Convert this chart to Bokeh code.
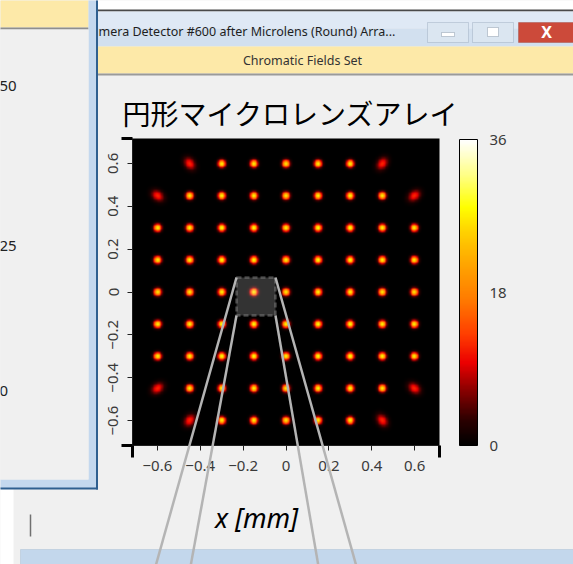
import numpy as np
from bokeh.plotting import figure
from bokeh.models import (Range1d, LinearColorMapper, ColorBar, FixedTicker,
                          BoxAnnotation, Label, Arrow)
from bokeh.embed import file_html
from bokeh.resources import INLINE

# ---- data -------------------------------------------------------------
# microlens centre positions on the detector (mm)
lens_x = [-0.6, -0.45, -0.3, -0.15, 0.0, 0.15, 0.3, 0.45, 0.6]
lens_y = [0.6, 0.45, 0.3, 0.15, 0.0, -0.15, -0.3, -0.45, -0.6]

# peak intensity of each focal spot (rows follow lens_y, columns lens_x)
spot_peak = [
    [0, 12, 28, 28, 28, 28, 28, 12, 0],
    [12, 28, 28, 28, 28, 28, 28, 28, 12],
    [28, 28, 28, 28, 28, 28, 28, 28, 28],
    [28, 28, 28, 28, 28, 28, 28, 28, 28],
    [28, 28, 28, 28, 28, 28, 28, 28, 28],
    [28, 28, 28, 28, 28, 28, 28, 28, 28],
    [28, 28, 28, 28, 28, 28, 28, 28, 28],
    [12, 28, 28, 28, 28, 28, 28, 28, 12],
    [0, 12, 28, 28, 28, 28, 28, 12, 0],
]
# radial stretch of each spot (off-axis lenses give oblique, smeared spots)
spot_stretch = [
    [1, 1.8, 1, 1, 1, 1, 1, 1.8, 1],
    [1.8, 1, 1, 1, 1, 1, 1, 1, 1.8],
    [1, 1, 1, 1, 1, 1, 1, 1, 1],
    [1, 1, 1, 1, 1, 1, 1, 1, 1],
    [1, 1, 1, 1, 1, 1, 1, 1, 1],
    [1, 1, 1, 1, 1, 1, 1, 1, 1],
    [1, 1, 1, 1, 1, 1, 1, 1, 1],
    [1.8, 1, 1, 1, 1, 1, 1, 1, 1.8],
    [1, 1.8, 1, 1, 1, 1, 1, 1.8, 1],
]
x_ticks = [-0.6, -0.4, -0.2, 0.0, 0.2, 0.4, 0.6]
y_ticks = [-0.6, -0.4, -0.2, 0.0, 0.2, 0.4, 0.6]
cbar_ticks = [0, 18, 36]
intensity_max = 36

title_text = "円形マイクロレンズアレイ"
x_label = "x [mm]"
window_title = "mera Detector #600 after Microlens (Round) Arra..."
window_tab = "Chromatic Fields Set"
side_labels = ["50", "25", "0"]

# ---- intensity image --------------------------------------------------
EXT = 0.716
N = 400
grid = np.linspace(-EXT, EXT, N)
GX, GY = np.meshgrid(grid, grid)
img = np.zeros_like(GX)
SIG = 0.0118
for i, yc in enumerate(lens_y):
    for j, xc in enumerate(lens_x):
        a = spot_peak[i][j]
        if a == 0:
            continue
        r = np.hypot(xc, yc)
        ux, uy = (xc / r, yc / r) if r > 0 else (1.0, 0.0)
        dx, dy = GX - xc, GY - yc
        dr = dx * ux + dy * uy
        dt = -dx * uy + dy * ux
        s = spot_stretch[i][j]
        sig_r, sig_t = SIG * s, SIG * np.sqrt(s)
        img += a * np.exp(-0.5 * ((dr / sig_r) ** 2 + (dt / sig_t) ** 2))

# black -> red -> orange -> yellow -> white
anchors = [(0.00, "#000000"), (0.08, "#2a0000"), (0.18, "#8a0000"),
           (0.27, "#ec0000"), (0.36, "#ff3c00"), (0.48, "#ff7c00"),
           (0.60, "#ffa800"), (0.70, "#ffd200"), (0.78, "#ffff00"),
           (0.88, "#ffff80"), (1.00, "#ffffff")]


def _rgb(h):
    return np.array([int(h[k:k + 2], 16) for k in (1, 3, 5)], float)


palette = []
for t in np.linspace(0, 1, 256):
    for (t0, c0), (t1, c1) in zip(anchors[:-1], anchors[1:]):
        if t0 <= t <= t1:
            f = (t - t0) / (t1 - t0)
            c = _rgb(c0) * (1 - f) + _rgb(c1) * f
            palette.append("#%02x%02x%02x" % tuple(int(round(v)) for v in c))
            break

mapper = LinearColorMapper(palette=palette, low=0, high=intensity_max)

# ---- canvas geometry (px) ---------------------------------------------
W, H = 573, 564
FL, FR, FT, FB = 132, 439, 138, 445          # image area on the canvas
SX = (FR - FL) / (2 * EXT)
SY = (FB - FT) / (2 * EXT)
CX = (FL + FR) / 2
CY = (FT + FB) / 2


def X(px):
    return (px - CX) / SX


def Y(py):
    return (CY - py) / SY


p = figure(width=W, height=H, x_range=Range1d(X(0), X(W)), y_range=Range1d(Y(H), Y(0)),
           output_backend="svg", toolbar_location=None, min_border=0,
           background_fill_color="#f0f0f0", border_fill_color="#f0f0f0",
           outline_line_color=None)
p.image(image=[img], x=-EXT, y=-EXT, dw=2 * EXT, dh=2 * EXT, color_mapper=mapper)
p.grid.visible = False

for ax, ticks in ((p.xaxis, x_ticks), (p.yaxis, y_ticks)):
    ax.ticker = FixedTicker(ticks=ticks)
    ax.fixed_location = -EXT
    ax.bounds = (-EXT, EXT)
    ax.major_label_text_font = "Noto Sans"
    ax.major_label_text_font_size = "15px"
    ax.major_label_text_color = "#3a3a3a"
    ax.major_tick_in = 0
    ax.major_tick_out = 5
    ax.minor_tick_line_color = None
    ax.axis_line_color = "#202020"
    ax.major_tick_line_color = "#202020"
p.xaxis.major_label_standoff = 10
p.yaxis.major_label_standoff = 9
p.yaxis.major_label_orientation = "vertical"

cb = ColorBar(color_mapper=mapper, ticker=FixedTicker(ticks=cbar_ticks),
              width=18, height=FB - FT - 1, padding=0, margin=0,
              location=(459, H - FB),
              bar_line_color="black", major_tick_line_color=None,
              major_label_text_font="Noto Sans", major_label_text_font_size="15px",
              major_label_text_color="#3a3a3a", label_standoff=12,
              background_fill_alpha=0, border_line_color=None)
p.add_layout(cb)


def box(l, t, r, b, fill, line=None, alpha=1.0, **kw):
    p.add_layout(BoxAnnotation(left=X(l), right=X(r), top=Y(t), bottom=Y(b),
                               fill_color=fill, fill_alpha=alpha,
                               line_color=line, **kw))


def seg(x0, y0, x1, y1, color, width):
    p.add_layout(Arrow(end=None, x_start=X(x0), y_start=Y(y0), x_end=X(x1), y_end=Y(y1),
                       line_color=color, line_width=width))


def text(px, py, s, size, color="#222222", font="Noto Sans", align="left",
         style="normal", baseline="middle"):
    p.add_layout(Label(x=X(px), y=Y(py), text=s, text_font=font, text_font_size=size,
                       text_color=color, text_align=align, text_baseline=baseline,
                       text_font_style=style))


# axis end caps
seg(121, FT, FL, FT, "black", 3)
seg(121, FB, FL, FB, "black", 3)
seg(FL, FB, FL, FB + 12, "black", 3)
seg(FR, FB, FR, FB + 12, "black", 3)

# ---- window chrome ----------------------------------------------------
# chart window: top strip, title bar, buttons, tab strip
box(97, 0, W + 2, 10, "white")
box(97, 9, W + 2, 11, "#4a4a4a")
box(97, 11, W + 2, 28, "#dfe9f5")
box(97, 28, W + 2, 46, "#d2e0ef")
text(98, 31, window_title, "12.5px", "#1e1e1e")
box(427, 22, 468, 42, "#dbe6f1", "#7b8fa6")
box(441, 32, 454, 36, "white", "#51647a")
box(472, 22, 513, 42, "#dbe6f1", "#7b8fa6")
box(487, 27, 498, 36, "white", "#51647a")
box(518, 22, W + 2, 42, "#cc4a3a", "#8c2a20")
text(546, 31.5, "X", "16px", "white", align="center", style="bold")
box(97, 46, W + 2, 73, "#fde9a8")
box(97, 73, W + 2, 75, "#9a9a9a")
text(302, 60, window_tab, "12.5px", "#333333", align="center")

# chart window lower frame
box(-2, 488, 13, H + 2, "white")
box(20, 549, W + 2, H + 2, "#c3d7ec", "#8fa9c4")
seg(30, 514, 30, 536, "#707070", 1.5)

# overlapping window on the left
box(-2, -2, 97, 488, "#f0f0f0")
box(-2, -2, 88, 27, "#fde9a8")
box(-2, 27, 88, 29, "#8e8e8e")
box(88, -2, 97, 488, "#c4d8ee")
box(-2, 479, 97, 488, "#c4d8ee")
box(-2, 29, 88, 479, "#f0f0f0")
box(95.5, -2, 97.5, 489, "#2f5f8f")
box(-2, 487, 97.5, 489, "#2f5f8f")
for lab, py in zip(side_labels, (85, 245, 390)):
    text(-1, py, lab, "15px", "#222222")

# ---- titles -----------------------------------------------------------
text(122, 112, title_text, "28px", "black", font="Noto Sans CJK JP")
text(256, 517, x_label, "27px", "black", style="italic", align="center")

# ---- zoom window on one focal spot ------------------------------------
zl, zr, zt, zb = 236, 275, 277, 315
box(zl, zt, zr, zb, "white", "#d0d0d0", alpha=0.2, line_width=2.5, line_dash="5 3")
seg(zl, zt, 155, H + 2, "#b4b4b4", 2.5)
seg(zl, zb, 190, H + 2, "#b4b4b4", 2.5)
seg(zr, zb, 318, H + 2, "#b4b4b4", 2.5)
seg(zr, zt, 356, H + 2, "#b4b4b4", 2.5)

open("out.html", "w").write(file_html(p, INLINE))
